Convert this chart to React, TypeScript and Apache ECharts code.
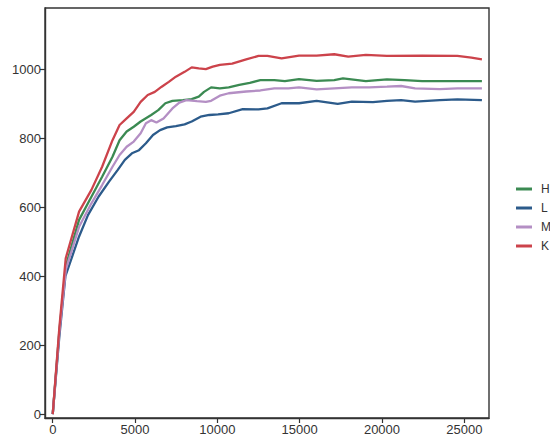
import React, { useEffect, useRef } from "react";
import * as echarts from "echarts";

const seriesNames = ["H", "L", "M", "K"];
const colors = ["#3b8a52", "#2c5b8b", "#b48fc4", "#cc434b"];

const hDepth = [0, 400, 800, 1600, 2350, 3000, 3630, 4060, 4490, 4920, 5340, 5980, 6410, 6840, 7270, 7910, 8440, 8870, 9190, 9620, 10150, 10690, 11330, 11970, 12610, 13460, 14100, 14960, 16030, 17100, 17630, 19020, 20300, 21370, 22440, 24580, 26070];
const hValues = [0, 240, 430, 563, 630, 688, 746, 794, 819, 833, 848, 867, 881, 901, 908, 910, 913, 920, 934, 947, 944, 947, 954, 960, 968, 968, 965, 971, 966, 968, 973, 965, 970, 968, 965, 965, 965];

const lDepth = [0, 400, 770, 1600, 2140, 2780, 3420, 3950, 4380, 4810, 5240, 5660, 6090, 6520, 6950, 7480, 8010, 8440, 8980, 9510, 10040, 10690, 11540, 12500, 13040, 13900, 14960, 16030, 17310, 18170, 19450, 20300, 21160, 22010, 23510, 24580, 26070];
const lValues = [0, 225, 400, 515, 577, 630, 674, 708, 737, 756, 765, 785, 809, 823, 831, 835, 840, 848, 862, 867, 869, 872, 884, 883, 886, 901, 901, 908, 899, 906, 904, 908, 910, 906, 910, 912, 910];

const mDepth = [0, 400, 800, 1600, 2350, 3000, 3630, 4060, 4490, 4920, 5340, 5660, 5980, 6300, 6730, 7270, 7690, 8120, 8760, 9300, 9620, 10150, 10690, 11750, 12610, 13460, 14310, 14960, 16030, 17100, 18170, 19230, 20300, 21160, 22010, 23510, 24580, 26070];
const mValues = [0, 235, 420, 543, 611, 664, 717, 751, 775, 790, 814, 843, 852, 845, 857, 886, 903, 910, 907, 905, 908, 923, 930, 935, 938, 944, 944, 947, 941, 944, 947, 947, 949, 951, 944, 942, 944, 944];

const kDepth = [0, 400, 790, 1600, 2350, 3000, 3630, 4060, 4490, 4920, 5340, 5770, 6200, 6620, 7050, 7480, 8010, 8440, 8870, 9300, 9720, 10150, 10900, 11750, 12500, 13040, 13900, 14960, 16030, 17100, 17950, 19020, 20300, 22440, 24580, 25430, 26070];
const kValues = [0, 250, 452, 587, 650, 717, 794, 838, 857, 876, 905, 925, 934, 949, 963, 978, 992, 1005, 1002, 1000, 1007, 1012, 1016, 1028, 1038, 1038, 1031, 1039, 1039, 1043, 1036, 1041, 1038, 1039, 1038, 1033, 1028];

const xTicks = [0, 5000, 10000, 15000, 20000, 25000];
const yTicks = [0, 200, 400, 600, 800, 1000];

const depths = [hDepth, lDepth, mDepth, kDepth];
const values = [hValues, lValues, mValues, kValues];

export default function App() {
  const ref = useRef<HTMLDivElement>(null);
  useEffect(() => {
    if (!ref.current) return;
    const chart = echarts.init(ref.current, undefined, { renderer: "svg" });
    const font = "'Liberation Sans', Arial, Helvetica, sans-serif";
    const axisCommon = {
      axisLine: { show: true, onZero: false, lineStyle: { color: "#333", width: 1.4 } },
      axisTick: { show: true, length: 5, lineStyle: { color: "#333", width: 1.2 } },
      splitLine: { show: false },
    };
    const fmt = (v: number) => String(v);
    chart.setOption({
      animation: false,
      backgroundColor: "#fff",
      textStyle: { fontFamily: font },
      grid: { left: 45, right: 61, top: 8, bottom: 28, show: true, borderColor: "#333", borderWidth: 1.4 },
      legend: {
        orient: "vertical",
        left: 511,
        top: 178,
        itemWidth: 16,
        itemHeight: 3,
        itemGap: 7,
        icon: "rect",
        data: seriesNames,
        textStyle: { fontSize: 12, color: "#333", fontFamily: font, padding: [0, 0, 0, 4] },
      },
      xAxis: {
        type: "value",
        min: -470,
        max: 26500,
        ...axisCommon,
        axisTick: { ...axisCommon.axisTick, customValues: xTicks },
        axisLabel: { customValues: xTicks, formatter: fmt, fontSize: 13, color: "#333", margin: 5, fontFamily: font },
      },
      yAxis: {
        type: "value",
        min: -11,
        max: 1177,
        ...axisCommon,
        axisTick: { ...axisCommon.axisTick, customValues: yTicks },
        axisLabel: { customValues: yTicks, formatter: fmt, fontSize: 13, color: "#333", margin: 4, fontFamily: font },
      },
      series: seriesNames.map((name, i) => ({
        name,
        type: "line",
        showSymbol: false,
        symbol: "none",
        color: colors[i],
        lineStyle: { width: 2.3, color: colors[i] },
        data: depths[i].map((d, j) => [d, values[i][j]]),
      })),
    });
    return () => chart.dispose();
  }, []);
  return <div ref={ref} style={{ position: "fixed", left: 0, top: 0, width: 550, height: 446 }} />;
}
